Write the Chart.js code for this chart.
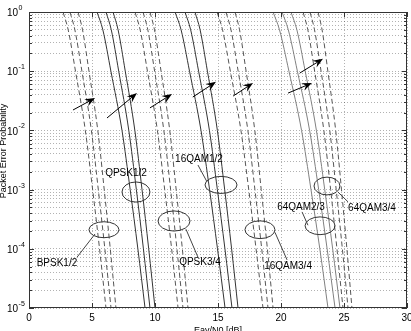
<!DOCTYPE html>
<html>
<head>
<meta charset="utf-8">
<script src="https://cdn.jsdelivr.net/npm/chart.js@4.4.1/dist/chart.umd.min.js"></script>
<style>
  html, body { margin: 0; padding: 0; background: #fff; }
  #wrap { width: 411px; height: 331px; }
</style>
</head>
<body>
<div id="wrap"><canvas id="perChart"></canvas></div>
<script>
// PER levels at which the curve positions were read
const perLevels = [1, 0.5, 0.1, 1e-2, 1e-3, 1e-4, 1e-5];

// Eav/N0 [dB] of each curve at the levels above (3 curves per mode)
const bpsk12 = [
  [2.70, 3.11, 3.69, 4.47, 5.05, 5.60, 6.11],
  [3.25, 3.64, 4.20, 4.95, 5.50, 6.02, 6.51],
  [3.89, 4.25, 4.76, 5.46, 5.97, 6.45, 6.90]
];
const qpsk12 = [
  [5.40, 5.86, 6.50, 7.38, 8.03, 8.64, 9.21],
  [6.11, 6.53, 7.12, 7.92, 8.52, 9.08, 9.60],
  [6.67, 7.07, 7.64, 8.40, 8.97, 9.50, 10.00]
];
const qpsk34 = [
  [8.41, 8.82, 9.40, 10.19, 10.77, 11.32, 11.83],
  [9.05, 9.43, 9.97, 10.70, 11.24, 11.74, 12.22],
  [9.60, 9.96, 10.48, 11.17, 11.68, 12.17, 12.62]
];
const qam16_12 = [
  [11.59, 12.07, 12.74, 13.65, 14.33, 14.96, 15.56],
  [12.38, 12.83, 13.46, 14.32, 14.95, 15.55, 16.11],
  [13.17, 13.58, 14.16, 14.95, 15.53, 16.08, 16.59]
];
const qam16_34 = [
  [14.92, 15.36, 15.98, 16.82, 17.44, 18.02, 18.57],
  [15.63, 16.03, 16.60, 17.37, 17.93, 18.47, 18.97],
  [16.35, 16.71, 17.23, 17.92, 18.43, 18.92, 19.37]
];
const qam64_23 = [
  [19.37, 19.88, 20.63, 21.63, 22.38, 23.08, 23.73],
  [20.08, 20.58, 21.30, 22.27, 22.99, 23.66, 24.29],
  [20.79, 21.26, 21.92, 22.81, 23.47, 24.10, 24.68]
];
const qam64_34 = [
  [21.75, 22.13, 22.67, 23.40, 23.94, 24.44, 24.92],
  [22.30, 22.66, 23.18, 23.87, 24.38, 24.87, 25.32],
  [22.94, 23.26, 23.72, 24.34, 24.80, 25.23, 25.63]
];

const xTicks = [0, 5, 10, 15, 20, 25, 30];
const yMajor = [1e-5, 1e-4, 1e-3, 1e-2, 1e-1, 1];
const yExponents = ['-5', '-4', '-3', '-2', '-1', '0'];
const yMinorSteps = [2, 3, 4, 5, 6, 7, 8, 9];

// annotations: [dB, PER]
const modeLabels = ['BPSK1/2', 'QPSK1/2', 'QPSK3/4', '16QAM1/2', '16QAM3/4', '64QAM2/3', '64QAM3/4'];
const labelPos = [[2.22, 5.75e-5], [7.70, 1.9e-3], [13.57, 6.0e-5], [13.49, 3.3e-3], [20.56, 5.1e-5], [21.59, 5.1e-4], [27.22, 4.9e-4]];
// ellipse centre [dB, PER] and half sizes [dB, decades]
const ellipseCentre = [[5.95, 2.1e-4], [8.49, 9.1e-4], [11.51, 2.95e-4], [15.24, 1.2e-3], [18.33, 2.1e-4], [23.10, 2.45e-4], [23.65, 1.15e-3]];
const ellipseHalf = [[1.19, 0.135], [1.11, 0.17], [1.27, 0.17], [1.27, 0.144], [1.19, 0.15], [1.19, 0.15], [1.03, 0.15]];
const leaders = [
  [[3.81, 7.2e-5], [5.24, 1.78e-4]],
  null,
  [[12.46, 2.14e-4], [13.41, 7.2e-5]],
  [[13.41, 2.6e-3], [14.13, 1.35e-3]],
  [[19.52, 1.9e-4], [20.48, 6.5e-5]],
  [[21.67, 4.2e-4], [22.14, 2.5e-4]],
  [[24.52, 9.1e-4], [25.32, 6.2e-4]]
];
const arrows = [
  [[3.49, 0.0221], [5.24, 0.0352]],
  [[6.19, 0.0162], [8.57, 0.0427]],
  [[9.60, 0.0240], [11.35, 0.0412]],
  [[13.00, 0.0366], [14.84, 0.0661]],
  [[16.20, 0.0380], [17.78, 0.0631]],
  [[20.56, 0.0427], [22.46, 0.0631]],
  [[21.50, 0.0933], [23.33, 0.162]]
];

const groups = [
  { name: 'BPSK1/2', curves: bpsk12, color: '#555', dash: [5, 3] },
  { name: 'QPSK1/2', curves: qpsk12, color: '#333', dash: [] },
  { name: 'QPSK3/4', curves: qpsk34, color: '#555', dash: [5, 3] },
  { name: '16QAM1/2', curves: qam16_12, color: '#333', dash: [] },
  { name: '16QAM3/4', curves: qam16_34, color: '#555', dash: [5, 3] },
  { name: '64QAM2/3', curves: qam64_23, color: '#808080', dash: [] },
  { name: '64QAM3/4', curves: qam64_34, color: '#555', dash: [5, 3] }
];

const datasets = [];
groups.forEach(g => {
  g.curves.forEach((c, k) => {
    datasets.push({
      label: g.name + ' #' + (k + 1),
      data: c.map((v, i) => ({ x: v, y: perLevels[i] })),
      borderColor: g.color,
      borderWidth: 1,
      borderDash: g.dash,
      pointRadius: 0,
      fill: false,
      cubicInterpolationMode: 'monotone'
    });
  });
});

const FONT = '"Liberation Sans", Arial, sans-serif';

const overlay = {
  id: 'overlay',
  afterDatasetsDraw(chart) {
    const { ctx, chartArea: a, scales: { x, y } } = chart;
    const px = v => x.getPixelForValue(v);
    const py = v => y.getPixelForValue(v);
    const decade = py(1e-1) - py(1);

    ctx.save();
    // ellipses
    ctx.strokeStyle = '#333';
    ctx.lineWidth = 1;
    ellipseCentre.forEach((c, i) => {
      const rx = px(c[0] + ellipseHalf[i][0]) - px(c[0]);
      const ry = ellipseHalf[i][1] * decade;
      ctx.beginPath();
      ctx.ellipse(px(c[0]), py(c[1]), rx, ry, 0, 0, Math.PI * 2);
      ctx.stroke();
    });
    // leader lines
    ctx.strokeStyle = '#444';
    leaders.forEach(l => {
      if (!l) return;
      ctx.beginPath();
      ctx.moveTo(px(l[0][0]), py(l[0][1]));
      ctx.lineTo(px(l[1][0]), py(l[1][1]));
      ctx.stroke();
    });
    // arrows
    ctx.strokeStyle = '#000';
    ctx.fillStyle = '#000';
    arrows.forEach(ar => {
      const x1 = px(ar[0][0]), y1 = py(ar[0][1]);
      const x2 = px(ar[1][0]), y2 = py(ar[1][1]);
      const len = Math.hypot(x2 - x1, y2 - y1);
      const ux = (x2 - x1) / len, uy = (y2 - y1) / len;
      const L = 10, W = 4, N = 6.5;
      ctx.beginPath();
      ctx.moveTo(x1, y1);
      ctx.lineTo(x2 - ux * N, y2 - uy * N);
      ctx.stroke();
      ctx.beginPath();
      ctx.moveTo(x2, y2);
      ctx.lineTo(x2 - ux * L - uy * W, y2 - uy * L + ux * W);
      ctx.lineTo(x2 - ux * N, y2 - uy * N);
      ctx.lineTo(x2 - ux * L + uy * W, y2 - uy * L - ux * W);
      ctx.closePath();
      ctx.fill();
    });
    // mode labels
    ctx.fillStyle = '#000';
    ctx.font = '10px ' + FONT;
    ctx.textAlign = 'center';
    ctx.textBaseline = 'middle';
    modeLabels.forEach((t, i) => {
      ctx.fillText(t, px(labelPos[i][0]), py(labelPos[i][1]));
    });

    // frame and inner ticks
    ctx.strokeStyle = '#333';
    ctx.lineWidth = 1;
    ctx.strokeRect(a.left + 0.5, a.top + 0.5, a.right - a.left - 1, a.bottom - a.top - 1);
    ctx.beginPath();
    xTicks.forEach(v => {
      const xx = Math.round(px(v)) + 0.5;
      ctx.moveTo(xx, a.bottom); ctx.lineTo(xx, a.bottom - 5);
      ctx.moveTo(xx, a.top); ctx.lineTo(xx, a.top + 5);
    });
    yMajor.forEach((m, i) => {
      const yy = Math.round(py(m)) + 0.5;
      ctx.moveTo(a.left, yy); ctx.lineTo(a.left + 5, yy);
      ctx.moveTo(a.right, yy); ctx.lineTo(a.right - 5, yy);
      if (i < yMajor.length - 1) {
        yMinorSteps.forEach(s => {
          const ym = Math.round(py(m * s)) + 0.5;
          ctx.moveTo(a.left, ym); ctx.lineTo(a.left + 3, ym);
          ctx.moveTo(a.right, ym); ctx.lineTo(a.right - 3, ym);
        });
      }
    });
    ctx.stroke();

    // y tick labels 10^n
    ctx.fillStyle = '#000';
    ctx.textAlign = 'left';
    ctx.textBaseline = 'alphabetic';
    yMajor.forEach((m, i) => {
      const c = py(m) + 0.5;
      ctx.font = '10px ' + FONT;
      ctx.fillText('10', 7, c + 3.6);
      const w = ctx.measureText('10').width;
      ctx.font = '7px ' + FONT;
      ctx.fillText(yExponents[i], 7 + w + 0.5, c - 2.6);
    });

    // y axis title
    ctx.font = '9px ' + FONT;
    ctx.textAlign = 'center';
    ctx.textBaseline = 'middle';
    ctx.translate(4, 151);
    ctx.rotate(-Math.PI / 2);
    ctx.fillText('Packet Error Probability', 0, 0);
    ctx.restore();
  }
};

new Chart(document.getElementById('perChart'), {
  type: 'line',
  data: { datasets: datasets },
  options: {
    responsive: true,
    maintainAspectRatio: false,
    animation: false,
    devicePixelRatio: 1,
    layout: { padding: { top: 12, right: 4, left: 0, bottom: 0 } },
    plugins: { legend: { display: false }, tooltip: { enabled: false } },
    scales: {
      x: {
        type: 'linear',
        min: 0,
        max: 30,
        afterBuildTicks: s => { s.ticks = xTicks.map(v => ({ value: v })); },
        afterFit: s => { s.height = 23; s.paddingLeft = 0; s.paddingRight = 0; },
        ticks: { font: { size: 10, family: FONT }, color: '#000', padding: 4, maxRotation: 0 },
        grid: { color: 'rgba(0,0,0,0.3)', lineWidth: 1, drawTicks: false },
        border: { display: false, dash: [1, 2] },
        title: { display: true, text: 'Eav/N0 [dB]', font: { size: 9, family: FONT }, color: '#000', padding: { top: 0, bottom: -5 } }
      },
      y: {
        type: 'logarithmic',
        min: 1e-5,
        max: 1,
        afterBuildTicks: s => {
          const t = [];
          yMajor.forEach((m, i) => {
            t.push({ value: m, major: true });
            if (i < yMajor.length - 1) yMinorSteps.forEach(k => t.push({ value: m * k }));
          });
          s.ticks = t;
        },
        afterFit: s => { s.width = 29; s.paddingTop = 0; s.paddingBottom = 0; },
        ticks: { display: false, autoSkip: false },
        grid: { color: 'rgba(0,0,0,0.3)', lineWidth: 1, drawTicks: false },
        border: { display: false, dash: [1, 2] }
      }
    }
  },
  plugins: [overlay]
});
</script>
</body>
</html>
